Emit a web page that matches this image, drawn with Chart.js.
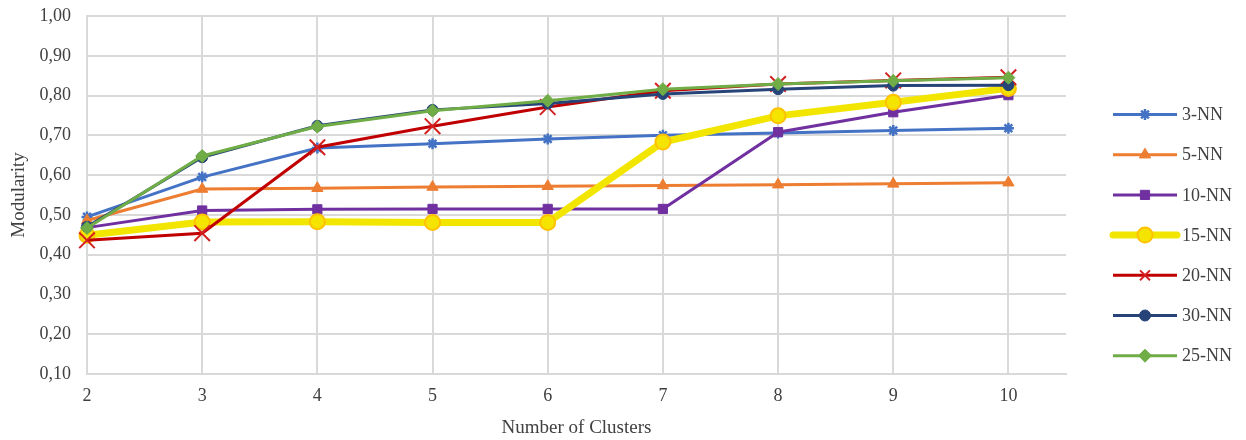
<!DOCTYPE html>
<html>
<head>
<meta charset="utf-8">
<script src="https://cdn.jsdelivr.net/npm/chart.js@4/dist/chart.umd.min.js"></script>
<style>
  html, body { margin: 0; padding: 0; background: #ffffff; }
  #wrap { width: 1246px; height: 440px; position: relative; }
</style>
</head>
<body>
<div id="wrap"><canvas id="c" width="1246" height="440"></canvas></div>
<script>
const clusters = [2, 3, 4, 5, 6, 7, 8, 9, 10];
const seriesNames = ['3-NN', '5-NN', '10-NN', '15-NN', '20-NN', '30-NN', '25-NN'];
const nn3  = [0.495, 0.595, 0.668, 0.679, 0.691, 0.700, 0.706, 0.712, 0.718];
const nn5  = [0.486, 0.565, 0.567, 0.570, 0.572, 0.574, 0.576, 0.578, 0.581];
const nn10 = [0.468, 0.511, 0.514, 0.515, 0.515, 0.515, 0.708, 0.758, 0.801];
const nn15 = [0.449, 0.482, 0.483, 0.481, 0.481, 0.683, 0.749, 0.783, 0.818];
const nn20 = [0.436, 0.454, 0.670, 0.723, 0.771, 0.812, 0.829, 0.838, 0.846];
const nn30 = [0.470, 0.645, 0.724, 0.764, 0.780, 0.804, 0.816, 0.825, 0.826];
const nn25 = [0.467, 0.648, 0.722, 0.762, 0.787, 0.816, 0.829, 0.837, 0.845];
const yTickMin = 0.1, yTickMax = 1.0, yTickStep = 0.1;

const FONT = 'Liberation Serif';
const TXT = '#404040';
const GRID = '#d9d9d9';

function pts(arr) { return arr.map((v, i) => ({ x: clusters[i], y: v })); }

const styles = [
  { color: '#4472C4', fill: '#4472C4', pstyle: 'star', r: 5.5, pbw: 2.5, bw: 3 },
  { color: '#ED7D31', fill: '#ED7D31', pstyle: 'triangle', r: 6.5, pbw: 1, bw: 3 },
  { color: '#7030A0', fill: '#7030A0', pstyle: 'rect', r: 6.5, pbw: 1, bw: 3 },
  { color: '#F2E600', fill: '#F5E400', border: '#FFC000', pstyle: 'circle', r: 7.5, pbw: 2, bw: 7 },
  { color: '#C00000', fill: '#C00000', border: '#D42020', pstyle: 'crossRot', r: 11, pbw: 2, bw: 3 },
  { color: '#264478', fill: '#264478', pstyle: 'circle', r: 5.5, pbw: 1, bw: 3 },
  { color: '#70AD47', fill: '#70AD47', pstyle: 'rectRot', r: 6.5, pbw: 1, bw: 3 }
];
const values = [nn3, nn5, nn10, nn15, nn20, nn30, nn25];

const datasets = values.map((vals, i) => {
  const s = styles[i];
  return {
    label: seriesNames[i],
    data: pts(vals),
    borderColor: s.color,
    backgroundColor: s.color,
    borderWidth: s.bw,
    pointStyle: s.pstyle,
    pointRadius: s.r,
    pointHoverRadius: s.r,
    pointBorderWidth: s.pbw,
    pointBackgroundColor: s.fill,
    pointBorderColor: s.border || s.color,
    tension: 0,
    fill: false,
    clip: false,
    order: values.length - i
  };
});

const legendPlugin = {
  id: 'lineLegend',
  afterDraw(chart) {
    const ctx = chart.ctx;
    const x0 = 1113, x1 = 1177, xm = 1145, tx = 1182;
    const y0 = 114.5, dy = 40.2;
    chart.data.datasets.forEach((ds, i) => {
      const y = y0 + dy * i;
      ctx.save();
      ctx.strokeStyle = ds.borderColor;
      ctx.lineWidth = ds.borderWidth;
      ctx.lineCap = ds.borderWidth > 4 ? 'round' : 'butt';
      ctx.beginPath();
      ctx.moveTo(x0, y);
      ctx.lineTo(x1, y);
      ctx.stroke();
      ctx.fillStyle = ds.pointBackgroundColor;
      ctx.strokeStyle = ds.pointBorderColor;
      ctx.lineWidth = ds.pointBorderWidth;
      const r = ds.pointStyle === 'crossRot' ? 7 : ds.pointRadius;
      Chart.helpers.drawPoint(ctx, { pointStyle: ds.pointStyle, radius: r, borderWidth: ds.pointBorderWidth, rotation: 0 }, xm, y);
      ctx.fillStyle = TXT;
      ctx.font = '18px "' + FONT + '"';
      ctx.textAlign = 'left';
      ctx.textBaseline = 'middle';
      ctx.fillText(ds.label, tx, y + 1);
      ctx.restore();
    });
  }
};

new Chart(document.getElementById('c'), {
  type: 'line',
  data: { datasets },
  options: {
    responsive: false,
    animation: false,
    layout: { autoPadding: false, padding: { left: 0, right: 180, top: 16, bottom: 0 } },
    plugins: { legend: { display: false }, tooltip: { enabled: false } },
    scales: {
      x: {
        type: 'linear',
        min: 2,
        max: 10.5,
        afterBuildTicks(scale) { scale.ticks = clusters.map(v => ({ value: v })); },
        afterFit(scale) { scale.height = 66; scale.paddingLeft = 0; scale.paddingRight = 0; },
        ticks: { stepSize: 1, color: TXT, font: { family: FONT, size: 18 }, padding: 11, maxRotation: 0, autoSkip: false },
        grid: { color: GRID, lineWidth: 2, drawTicks: false },
        border: { color: GRID, width: 2 },
        title: { display: true, text: 'Number of Clusters', color: TXT, font: { family: FONT, size: 19 }, padding: { top: 0, bottom: 1 } }
      },
      y: {
        min: yTickMin,
        max: yTickMax,
        afterFit(scale) { scale.width = 87; scale.paddingTop = 0; scale.paddingBottom = 0; },
        ticks: {
          stepSize: yTickStep,
          color: TXT,
          font: { family: FONT, size: 18 },
          padding: 16,
          callback: (v) => Number(v).toFixed(2).replace('.', ',')
        },
        grid: { color: GRID, lineWidth: 2, drawTicks: false },
        border: { color: GRID, width: 2 },
        title: { display: true, text: 'Modularity', color: TXT, font: { family: FONT, size: 19 }, padding: { top: 8, bottom: 0 } }
      }
    }
  },
  plugins: [legendPlugin]
});
</script>
</body>
</html>
